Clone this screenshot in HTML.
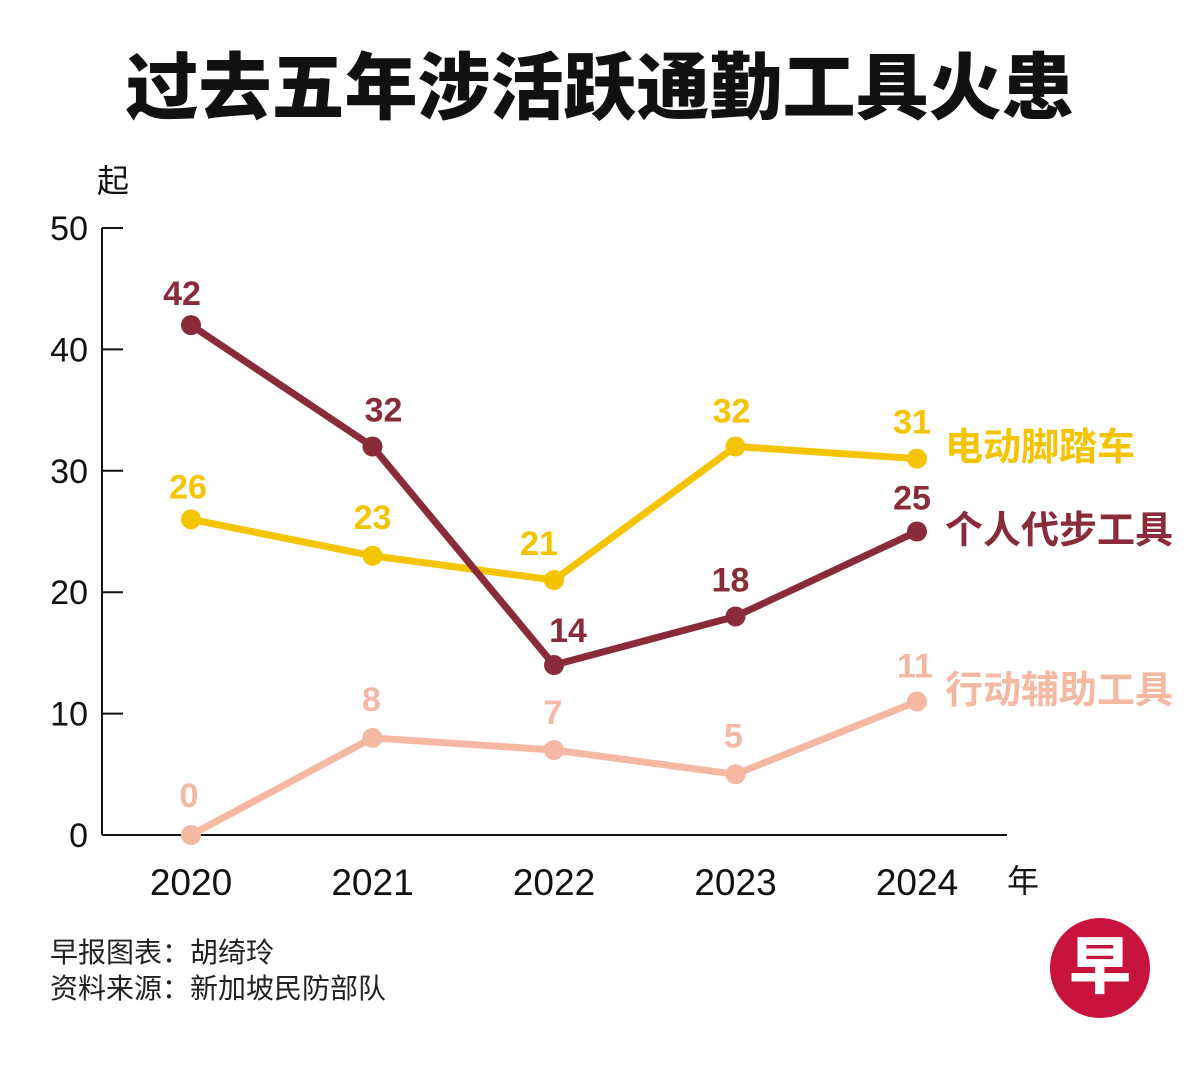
<!DOCTYPE html>
<html><head><meta charset="utf-8"><style>
body{margin:0;background:#fff;}
svg text{font-family:"Liberation Sans","Noto Sans CJK SC",sans-serif;}
</style></head><body>
<svg width="1200" height="1075" viewBox="0 0 1200 1075">
<text x="600" y="113" text-anchor="middle" font-size="73" font-weight="900" fill="#111">过去五年涉活跃通勤工具火患</text>
<text x="113" y="192" text-anchor="middle" font-size="32" fill="#111">起</text>
<text x="1023" y="892" text-anchor="middle" font-size="32" fill="#111">年</text>
<g id="axes"></g>
<g id="marks"></g>
<text x="50" y="962" font-size="28" fill="#222">早报图表：胡绮玲</text>
<text x="50" y="998" font-size="28" fill="#222">资料来源：新加坡民防部队</text>
<g>
<circle cx="1100" cy="968" r="50" fill="#c8143c"/>
<text x="1100" y="988" text-anchor="middle" font-size="62" font-weight="900" fill="#fff" font-family="'Noto Serif CJK SC',serif">早</text>
</g>
</svg>
<script>
const years = ["2020","2021","2022","2023","2024"];
const yTicks = [0,10,20,30,40,50];
const seriesNames = ["电动脚踏车","个人代步工具","行动辅助工具"];
const escooter = [26,23,21,32,31];
const pmd = [42,32,14,18,25];
const pmad = [0,8,7,5,11];
const NS="http://www.w3.org/2000/svg";
const x0=191, dx=181.5, yBase=835, yTop=228;
const xScale=i=>x0+i*dx;
const yScale=v=>yBase-(v/50)*(yBase-yTop);
function mk(tag,attrs,parent){const e=document.createElementNS(NS,tag);for(const k in attrs)e.setAttribute(k,attrs[k]);parent.appendChild(e);return e;}
const axes=document.getElementById('axes'), marks=document.getElementById('marks');
let yl=mk('line',{x1:102,y1:yTop,x2:102,y2:yBase,stroke:'#111','stroke-width':2},axes);


let xl=mk('line',{x1:102,y1:yBase,x2:1007,y2:yBase,stroke:'#111','stroke-width':2},axes);


yTicks.forEach(t=>{
  const y=yScale(t);
  const tk=mk('line',{x1:102,y1:y,x2:123,y2:y,stroke:'#111','stroke-width':2},axes);
  
  
  const tx=mk('text',{x:88,y:y+12,'text-anchor':'end','font-size':34,fill:'#111'},axes);
  tx.textContent=t;
  
  
});
years.forEach((yr,i)=>{
  const tx=mk('text',{x:xScale(i),y:895,'text-anchor':'middle','font-size':37,fill:'#111'},axes);
  tx.textContent=yr;
  
  
});
const cfg=[
 {vals:escooter,color:'#f5c400',name:'escooter',ldx:[-3,0,-15,-4,-5],ldy:[-33,-39,-37,-36,-37],nameY:447},
 {vals:pmd,color:'#8a2b3a',name:'pmd',ldx:[-9,11,14,-5,-5],ldy:[-32,-37,-35,-37,-34],nameY:530},
 {vals:pmad,color:'#f5b9a3',name:'pmad',ldx:[-2,-1,-1,-2,-2],ldy:[-40,-39,-38,-39,-36],nameY:690}
];
cfg.forEach((s,si)=>{
  const pts=s.vals.map((v,i)=>xScale(i)+','+yScale(v)).join(' ');
  const pl=mk('polyline',{points:pts,fill:'none',stroke:s.color,'stroke-width':7,'stroke-linejoin':'round'},marks);
  
  
  s.vals.forEach((v,i)=>{
    const c=mk('circle',{cx:xScale(i),cy:yScale(v),r:10,fill:s.color},marks);
    
    
    const t=mk('text',{x:xScale(i)+s.ldx[i],y:yScale(v)+s.ldy[i]+12,'text-anchor':'middle','font-size':34,'font-weight':'bold',fill:s.color},marks);
    t.textContent=v;
    
    
  });
  const n=mk('text',{x:945,y:s.nameY+13,'font-size':38,'font-weight':'bold',fill:s.color},marks);
  n.textContent=seriesNames[si];
  
  
});
</script>
</body></html>
